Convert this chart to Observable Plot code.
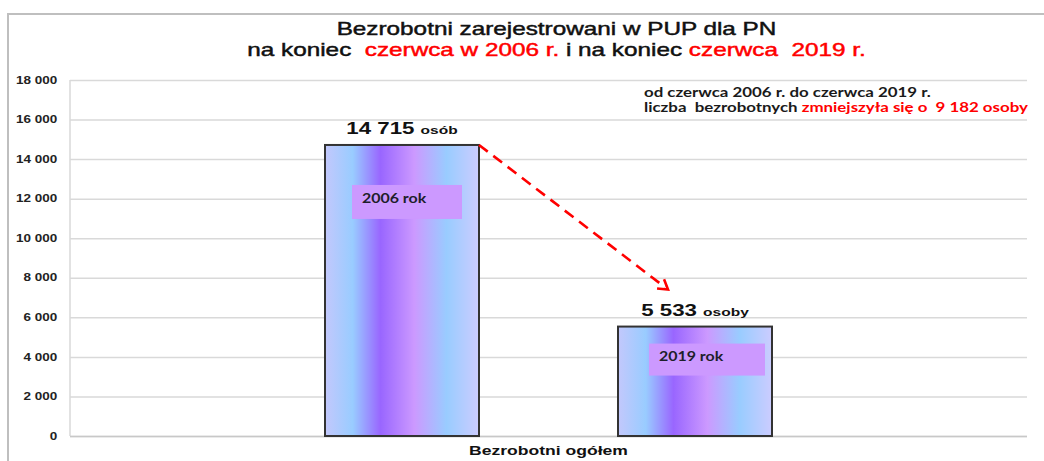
<!DOCTYPE html>
<html>
<head>
<meta charset="utf-8">
<script src="https://cdn.jsdelivr.net/npm/d3@7"></script>
<script src="https://cdn.jsdelivr.net/npm/@observablehq/plot@0.6"></script>
<style>
  body { margin: 0; background: #ffffff; }
  #chart { width: 1044px; height: 461px; }
</style>
</head>
<body>
<div id="chart"></div>
<script>
// ---------------- data ----------------
const years = ["2006 rok", "2019 rok"];
const values = [14715, 5533];
const units = ["osób", "osoby"];
const yTicks = [0, 2000, 4000, 6000, 8000, 10000, 12000, 14000, 16000, 18000];
const categoryLabel = "Bezrobotni ogółem";
const titleLine1 = "Bezrobotni zarejestrowani w PUP dla PN";
const titleLine2 = [
  {text: "na koniec  ", highlight: false},
  {text: "czerwca w 2006 r.", highlight: true},
  {text: " i na koniec ", highlight: false},
  {text: "czerwca  2019 r.", highlight: true}
];
const noteLine1 = [{text: "od czerwca 2006 r. do czerwca 2019 r.", highlight: false}];
const noteLine2 = [
  {text: "liczba  bezrobotnych ", highlight: false},
  {text: "zmniejszyła się o  9 182 osoby", highlight: true}
];

const data = years.map((year, i) => ({year, value: values[i], unit: units[i]}));

// ---------------- styling / layout ----------------
const RED = "#ff0000";
const INK = "#111111";
const K = 1.35;           // horizontal stretch of Arial-like texts
const KC = 1.14;          // horizontal stretch of Calibri-like texts (year boxes)
const KN = 1.25;          // horizontal stretch of the note
const SANS = "'Liberation Sans', Arial, sans-serif";
const CAL = "Lato, 'Open Sans', sans-serif";
const yearBoxLayout = {
  "2006 rok": {dx: 27, dy: 40, w: 110, h: 34, ty: 18},
  "2019 rok": {dx: 31, dy: 17, w: 116, h: 32, ty: 17}
};
const gradStops = [
  [0, "#c3c8fc"], [0.18, "#99ccff"], [0.36, "#9966ff"],
  [0.58, "#cc99ff"], [0.79, "#99ccff"], [1, "#ccccff"]
];

const fmt = d => d3.format(",")(d).replace(/,/g, " ");

function bandwidth(scale) {
  if (!scale) return 0;
  const b = scale.bandwidth;
  return typeof b === "function" ? b() : (b || 0);
}

function addText(parent, x, y, k, anchor) {
  return parent.append("text")
    .attr("transform", `translate(${x},${y}) scale(${k},1)`)
    .attr("text-anchor", anchor)
    .style("white-space", "pre");
}

// decorations: gradient defs, outer frame, plot left border
function decorMark(index, scales, values, dims) {
  const g = d3.create("svg:g");
  const grad = g.append("defs").append("linearGradient")
    .attr("id", "barGrad").attr("x1", 0).attr("x2", 1).attr("y1", 0).attr("y2", 0);
  gradStops.forEach(([o, c]) => grad.append("stop").attr("offset", o).attr("stop-color", c));
  g.append("path")
    .attr("d", `M8,${dims.height}V14H${dims.width}`)
    .attr("fill", "none").attr("stroke", "#bfbfbf").attr("stroke-width", 2);
  g.append("line")
    .attr("x1", dims.marginLeft).attr("x2", dims.marginLeft)
    .attr("y1", dims.marginTop).attr("y2", dims.height - dims.marginBottom)
    .attr("stroke", "#d9d9d9").attr("stroke-width", 1.5);
  return g.node();
}

// value labels, year boxes
function labelMark(index, scales, values, dims) {
  const g = d3.create("svg:g");
  const bw = bandwidth(scales.x);
  data.forEach(d => {
    const x0 = scales.x(d.year);
    const cx = x0 + bw / 2;
    const yTop = scales.y(d.value);
    const t = addText(g, cx, yTop - 11, K, "middle")
      .attr("font-family", SANS).attr("font-weight", "bold").attr("fill", INK);
    t.append("tspan").attr("font-size", 16.5).text(fmt(d.value) + " ");
    t.append("tspan").attr("font-size", 11.5).text(d.unit);

    const L = yearBoxLayout[d.year];
    g.append("rect")
      .attr("x", x0 + L.dx).attr("y", yTop + L.dy)
      .attr("width", L.w).attr("height", L.h)
      .attr("fill", "#cc99ff");
    addText(g, x0 + L.dx + 10, yTop + L.dy + L.ty, KC, "start")
      .attr("font-family", CAL).attr("font-weight", "bold")
      .attr("font-size", 14).attr("fill", "#1e1e2a").text(d.year);
  });
  return g.node();
}

// dashed arrow from 2006 bar to 2019 bar
function arrowMark(index, scales, values, dims) {
  const g = d3.create("svg:g");
  const bw = bandwidth(scales.x);
  const a = data[0], b = data[1];
  const x1 = scales.x(a.year) + bw, y1 = scales.y(a.value);
  const x2 = scales.x(b.year) + bw / 2 - 27, y2 = scales.y(b.value) - 37;
  g.append("line")
    .attr("x1", x1).attr("y1", y1).attr("x2", x2 - 3).attr("y2", y2 - 2.3)
    .attr("stroke", RED).attr("stroke-width", 2.6).attr("stroke-dasharray", "11,7");
  const ang = Math.atan2(y2 - y1, x2 - x1);
  const hl = 11, spread = 0.55;
  const p1 = [x2 - hl * Math.cos(ang - spread), y2 - hl * Math.sin(ang - spread)];
  const p2 = [x2 - hl * Math.cos(ang + spread), y2 - hl * Math.sin(ang + spread)];
  g.append("path")
    .attr("d", `M${p1[0]},${p1[1]}L${x2},${y2}L${p2[0]},${p2[1]}`)
    .attr("fill", "none").attr("stroke", RED).attr("stroke-width", 2.6)
    .attr("stroke-linejoin", "miter");
  return g.node();
}

// title, note, category label
function textMark(index, scales, values, dims) {
  const g = d3.create("svg:g");
  const cx = dims.marginLeft + (dims.width - dims.marginLeft - dims.marginRight) / 2 + 8;
  addText(g, cx, 35, K, "middle")
    .attr("font-family", SANS).attr("font-size", 18).attr("fill", INK)
    .attr("stroke", INK).attr("stroke-width", 0.45).text(titleLine1);
  const t2 = addText(g, cx, 56, K, "middle")
    .attr("font-family", SANS).attr("font-size", 18).attr("stroke-width", 0.45);
  titleLine2.forEach(s => t2.append("tspan")
    .attr("fill", s.highlight ? RED : INK)
    .attr("stroke", s.highlight ? RED : INK)
    .text(s.text));

  const nx = dims.width - 400;
  [[noteLine1, 97], [noteLine2, 112]].forEach(([segs, y]) => {
    const t = addText(g, nx, y, KN, "start")
      .attr("font-family", CAL).attr("font-weight", "bold").attr("font-size", 13.5);
    segs.forEach(s => t.append("tspan").attr("fill", s.highlight ? RED : "#1a1a1a").text(s.text));
  });

  const px = dims.marginLeft + (dims.width - dims.marginLeft - dims.marginRight) / 2;
  addText(g, px, dims.height - 6, K, "middle")
    .attr("font-family", SANS).attr("font-weight", "bold").attr("font-size", 13)
    .attr("fill", INK).text(categoryLabel);
  return g.node();
}

const chart = Plot.plot({
  width: 1044,
  height: 461,
  marginTop: 80,
  marginRight: 17,
  marginBottom: 25,
  marginLeft: 70,
  style: {fontFamily: SANS, background: "#ffffff", color: INK},
  x: {domain: years, paddingInner: 0.474, paddingOuter: 0.867, axis: null},
  y: {domain: [0, 18000], label: null},
  marks: [
    decorMark,
    Plot.gridY(yTicks, {stroke: "#d9d9d9", strokeOpacity: 1, strokeWidth: 1.5}),
    Plot.ruleY([0], {stroke: "#c8c8c8", strokeWidth: 1.5}),
    Plot.axisY(yTicks, {tickSize: 0, tickPadding: 13, tickFormat: fmt, label: null,
      fontWeight: "bold", fontSize: 10, fill: "#222"}),
    Plot.barY(data, {x: "year", y: "value", fill: "url(#barGrad)", stroke: "#333", strokeWidth: 2}),
    arrowMark,
    labelMark,
    textMark
  ]
});

document.getElementById("chart").appendChild(chart);

// stretch y-axis tick labels horizontally about their anchor
function stretchEl(el, k) {
  const b = el.getBBox();
  const anchor = getComputedStyle(el).textAnchor;
  const ax = anchor === "end" ? b.x + b.width : anchor === "middle" ? b.x + b.width / 2 : b.x;
  const old = el.getAttribute("transform") || "";
  el.setAttribute("transform", `${old} translate(${ax},0) scale(${k},1) translate(${-ax},0)`);
}
chart.querySelectorAll('g[aria-label="y-axis tick label"] text').forEach(el => {
  el.setAttribute("font-weight", "bold");
  el.setAttribute("font-size", 10);
  stretchEl(el, K);
});
</script>
</body>
</html>
